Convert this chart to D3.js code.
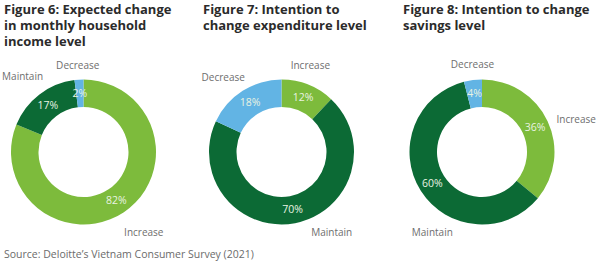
<!DOCTYPE html>
<html><head><meta charset="utf-8">
<script src="https://cdn.jsdelivr.net/npm/d3@7/dist/d3.min.js"></script>
<style>
html,body{margin:0;padding:0;background:#fff;}
svg{display:block;font-family:"Open Sans",sans-serif;}
</style></head>
<body><svg id="c" width="600" height="264"></svg>
<script>
const categories = ["Increase", "Maintain", "Decrease"];
const incomeValues = [82, 17, 2];
const expenditureValues = [12, 70, 18];
const savingsValues = [36, 60, 4];
const titles = [
  ["Figure 6: Expected change", "in monthly household", "income level"],
  ["Figure 7: Intention to", "change expenditure level"],
  ["Figure 8: Intention to change", "savings level"]
];
const sourceText = "Source: Deloitte\u2019s Vietnam Consumer Survey (2021)";

const colors = d3.scaleOrdinal().domain(categories).range(["#7dbb3c", "#0c6a35", "#62b4e4"]);
const svg = d3.select("#c");

const charts = [
  {values: incomeValues, cx: 83.5, tx: 4, nudge: [[9,4],[-5,-2],[0,5]]},
  {values: expenditureValues, cx: 281.5, tx: 203, nudge: [[-5,-1],[33,-10],[-9,3]]},
  {values: savingsValues, cx: 482, tx: 403, nudge: [[11,7],[28,31],[2,4]]}
];
const cy = 152, rOuter = 72.5, rInner = 45, rLabel = 92;
const pie = d3.pie().sort(null).value(d => d.v);
const arc = d3.arc().innerRadius(rInner).outerRadius(rOuter);
const pctArc = d3.arc().innerRadius((rInner + rOuter) / 2).outerRadius((rInner + rOuter) / 2);
const lblArc = d3.arc().innerRadius(rLabel).outerRadius(rLabel);

charts.forEach((c, ci) => {
  titles[ci].forEach((line, i) =>
    svg.append("text").attr("x", c.tx).attr("y", 14 + i * 16)
      .attr("font-size", 13).attr("font-weight", 700).attr("fill", "#2b2b2b")
      .text(line));

  const data = pie(categories.map((k, i) => ({k, v: c.values[i]})));
  const g = svg.append("g").attr("transform", `translate(${c.cx},${cy})`);
  g.selectAll("path").data(data).join("path")
    .attr("d", arc).attr("fill", d => colors(d.data.k));
  g.selectAll("text.pct").data(data).join("text").attr("class", "pct")
    .attr("transform", d => `translate(${pctArc.centroid(d)})`)
    .attr("text-anchor", "middle").attr("dy", "0.35em")
    .attr("font-size", 10.5).attr("fill", "#e9f3e2")
    .text(d => d.data.v + "%");
  g.selectAll("text.lbl").data(data).join("text").attr("class", "lbl")
    .attr("transform", (d, i) => {
      const p = lblArc.centroid(d);
      return `translate(${p[0] + c.nudge[i][0]},${p[1] + c.nudge[i][1]})`;
    })
    .attr("text-anchor", "middle").attr("dy", "0.35em")
    .attr("font-size", 10).attr("fill", "#6e6e6e")
    .text(d => d.data.k);
});

svg.append("text").attr("x", 4).attr("y", 258).attr("font-size", 10.5)
  .attr("fill", "#6b6b6b").text(sourceText);
</script></body></html>
